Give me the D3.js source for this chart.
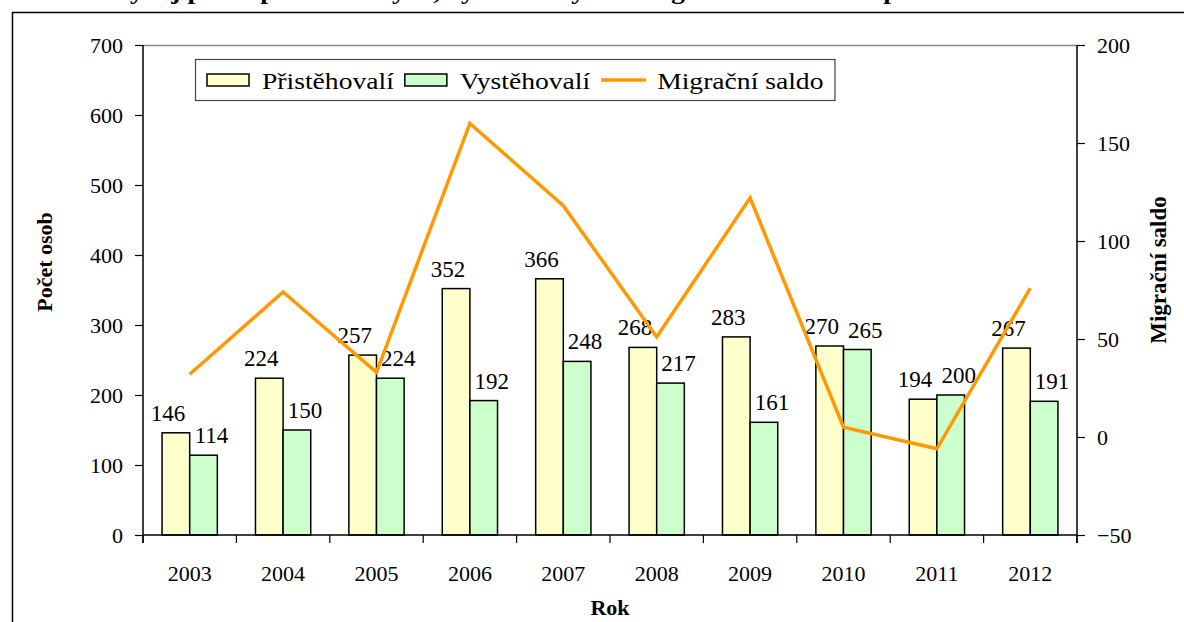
<html>
<head>
  <meta charset="utf-8">
  <title>Migrace</title>
  <script src="https://d3js.org/d3.v7.min.js"></script>
  <style>
    body { margin: 0; background: #fff; }
    text { font-family: "Liberation Serif", "Times New Roman", serif; fill: #000; }
  </style>
</head>
<body>
  <script>

	var years = ['2003', '2004', '2005', '2006', '2007', '2008', '2009', '2010', '2011', '2012'];
	var prist = [146, 224, 257, 352, 366, 268, 283, 270, 194, 267];
	var vyst = [114, 150, 224, 192, 248, 217, 161, 265, 200, 191];
	var saldo = [32, 74, 33, 160, 118, 51, 122, 5, -6, 76];
	var leftTicks = [0, 100, 200, 300, 400, 500, 600, 700];
	var rightTicks = [-50, 0, 50, 100, 150, 200];
	var seriesNames = ['Přistěhovalí', 'Vystěhovalí', 'Migrační saldo'];
	var barColors = ['#ffffcc', '#ccffcc'];
	var lineColor = '#ff9900';

	var W = 1184, H = 622;
	var plotL = 143, plotR = 1077, plotT = 45, plotB = 535;

	var svg = d3.select('body')
	            .append('svg')
	              .attr('width', W)
	              .attr('height', H);

	// cut-off title at the very top (only descenders show)
	svg.append('text')
	  .attr('transform', 'translate(110,-1) scale(1.2,1)')
	  .attr('font-size', 23)
	  .attr('font-weight', 'bold')
	  .text('Vývoj počtu přistěhovalých, vystěhovalých a migračního salda za posledních 10 let');

	// frame (top and left edges only visible)
	svg.append('path')
	  .attr('d', 'M12.5,' + H + 'V12.5H' + W)
	  .attr('fill', 'none')
	  .attr('stroke', '#000')
	  .attr('stroke-width', 1.5);

	var x = d3.scaleBand().domain(years).range([plotL, plotR]).padding(0);
	var x1 = d3.scaleBand().domain([0, 1]).range([0, x.bandwidth()]).paddingOuter(0.69).paddingInner(0);
	var y = d3.scaleLinear().domain([0, 700]).range([plotB, plotT]);
	var y2 = d3.scaleLinear().domain([-50, 200]).range([plotB, plotT]);

	// plot top border
	svg.append('line')
	  .attr('x1', plotL).attr('x2', plotR)
	  .attr('y1', plotT + 0.5).attr('y2', plotT + 0.5)
	  .attr('stroke', '#888').attr('stroke-width', 1.5);

	// bars
	var groups = [prist, vyst];
	groups.forEach(function(vals, s){
	  svg.selectAll('rect.s' + s)
	    .data(vals)
	    .enter()
	    .append('rect')
	      .attr('class', 's' + s)
	      .attr('x', function(d, i){ return x(years[i]) + x1(s); })
	      .attr('width', x1.bandwidth())
	      .attr('y', function(d){ return y(d); })
	      .attr('height', function(d){ return plotB - y(d); })
	      .attr('fill', barColors[s])
	      .attr('stroke', '#000')
	      .attr('stroke-width', 1.5);
	});

	// value labels
	var labelShift = [-8, 8];
	groups.forEach(function(vals, s){
	  svg.selectAll('text.l' + s)
	    .data(vals)
	    .enter()
	    .append('text')
	      .attr('class', 'l' + s)
	      .attr('x', function(d, i){ return x(years[i]) + x1(s) + x1.bandwidth() / 2 + labelShift[s]; })
	      .attr('y', function(d){ return y(d) - 12; })
	      .attr('text-anchor', 'middle')
	      .attr('font-size', 23)
	      .text(function(d){ return d; });
	});

	// axes
	var axisLeft = d3.axisLeft(y).tickValues(leftTicks).tickSize(8).tickPadding(12);
	var gl = svg.append('g').attr('transform', 'translate(' + plotL + ',0)').call(axisLeft);
	var axisRight = d3.axisRight(y2).tickValues(rightTicks).tickSize(8).tickPadding(12);
	var gr = svg.append('g').attr('transform', 'translate(' + plotR + ',0)').call(axisRight);

	var xBottom = d3.axisBottom(x).tickSize(0).tickPadding(30);
	var gb = svg.append('g').attr('transform', 'translate(0,' + plotB + ')').call(xBottom);
	// category boundary ticks
	gb.selectAll('line.sep')
	  .data(years.concat(['end']))
	  .enter()
	  .append('line')
	    .attr('class', 'sep')
	    .attr('x1', function(d, i){ return i < years.length ? x(d) : plotR; })
	    .attr('x2', function(d, i){ return i < years.length ? x(d) : plotR; })
	    .attr('y1', 0).attr('y2', 8)
	    .attr('stroke', '#000').attr('stroke-width', 1.2);

	[gl, gr, gb].forEach(function(g){
	  g.selectAll('.domain').remove();
	  g.selectAll('.tick line').attr('stroke', '#000').attr('stroke-width', 1.2);
	  g.selectAll('text').attr('font-size', 22).attr('font-family', '"Liberation Serif", serif').attr('fill', '#000');
	});

	svg.append('line').attr('x1', plotL).attr('x2', plotL).attr('y1', plotT).attr('y2', plotB + 8).attr('stroke', '#000').attr('stroke-width', 1.5);
	svg.append('line').attr('x1', plotR).attr('x2', plotR).attr('y1', plotT).attr('y2', plotB + 8).attr('stroke', '#000').attr('stroke-width', 1.5);
	svg.append('line').attr('x1', plotL).attr('x2', plotR).attr('y1', plotB).attr('y2', plotB).attr('stroke', '#000').attr('stroke-width', 1.5);

	// migration balance line
	var line = d3.line()
	  .x(function(d, i){ return x(years[i]) + x.bandwidth() / 2; })
	  .y(function(d){ return y2(d); });
	svg.append('path')
	  .datum(saldo)
	  .attr('d', line)
	  .attr('fill', 'none')
	  .attr('stroke', lineColor)
	  .attr('stroke-width', 3.5)
	  .attr('stroke-linejoin', 'miter');

	// axis titles
	svg.append('text')
	  .attr('transform', 'translate(52,262) rotate(-90)')
	  .attr('text-anchor', 'middle')
	  .attr('font-size', 22).attr('font-weight', 'bold')
	  .text('Počet osob');
	svg.append('text')
	  .attr('transform', 'translate(1166,270) rotate(-90)')
	  .attr('text-anchor', 'middle')
	  .attr('font-size', 23).attr('font-weight', 'bold')
	  .text('Migrační saldo');
	svg.append('text')
	  .attr('x', 610).attr('y', 615)
	  .attr('text-anchor', 'middle')
	  .attr('font-size', 22).attr('font-weight', 'bold')
	  .text('Rok');

	// legend
	var lg = svg.append('g');
	var box = lg.append('rect')
	  .attr('x', 195.5).attr('y', 59.5)
	  .attr('height', 41)
	  .attr('fill', '#fff')
	  .attr('stroke', '#444').attr('stroke-width', 1.2);
	var stretch = 1.15;
	var lx = 207;
	seriesNames.forEach(function(name, i){
	  if (i < 2) {
	    lg.append('rect')
	      .attr('x', lx).attr('y', 74).attr('width', 42).attr('height', 12)
	      .attr('fill', barColors[i]).attr('stroke', '#000').attr('stroke-width', 1.5);
	  } else {
	    lg.append('line')
	      .attr('x1', lx).attr('x2', lx + 45).attr('y1', 80).attr('y2', 80)
	      .attr('stroke', lineColor).attr('stroke-width', 3.5);
	  }
	  var tx = lx + (i < 2 ? 55 : 56);
	  var t = lg.append('text')
	    .attr('transform', 'translate(' + tx + ',89) scale(' + stretch + ',1)')
	    .attr('font-size', 24)
	    .text(name);
	  lx = tx + t.node().getComputedTextLength() * stretch + 11;
	});
	box.attr('width', lx - 195);

  </script>
</body>
</html>
